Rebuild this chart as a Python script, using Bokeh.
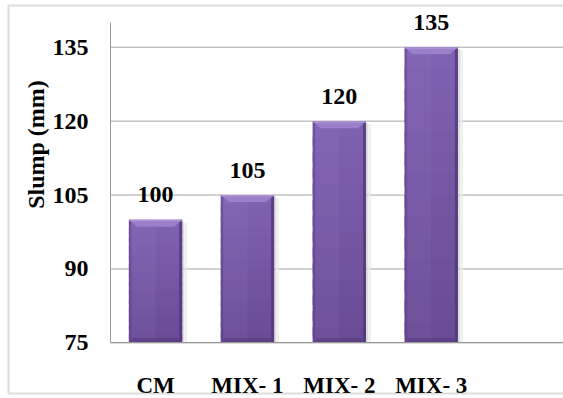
import numpy as np
from bokeh.plotting import figure
from bokeh.models import Range1d, FixedTicker, BoxAnnotation, LinearAxis
from bokeh.core.properties import value
from bokeh.embed import file_html
from bokeh.resources import INLINE

# Slump test results for each mix
mixes = ["CM", "MIX- 1", "MIX- 2", "MIX- 3"]
slump = [100, 105, 120, 135]
y_ticks = [75, 90, 105, 120, 135]

SERIF = "'Liberation Serif', 'Times New Roman', serif"
BAR_W = 0.58
Y0, Y1 = 75, 140          # extent of the value axis
AX_X = -0.49              # where the value axis sits on the category scale
W, H = 563, 398
X_START, X_END = -1.687, 4.439
Y_END = 144.48
PX_X = (X_END - X_START) / W     # one pixel in category units
PX_Y = 1 / 4.928                 # one pixel in value units
Y_START = Y_END - H * PX_Y

xs = np.arange(len(mixes), dtype=float)
vals = np.array(slump, dtype=float)

# the plot frame fills the whole canvas; the axes are pinned inside it
p = figure(width=W, height=H, output_backend="svg", toolbar_location=None,
           title=None, x_range=Range1d(X_START, X_END),
           y_range=Range1d(Y_START, Y_END),
           min_border_left=0, min_border_top=0, min_border_right=0,
           min_border_bottom=0)
p.background_fill_color = "white"
p.border_fill_color = "white"
p.outline_line_color = None
p.xgrid.visible = False
p.ygrid.visible = False

# horizontal grid lines, from the value axis to the right edge
p.segment(x0=[AX_X] * len(y_ticks), x1=[X_END] * len(y_ticks),
          y0=y_ticks, y1=y_ticks, line_color="#a6a6a6", line_width=1)

# value axis
p.yaxis.fixed_location = AX_X
p.yaxis.bounds = (Y0, Y1)
p.yaxis.ticker = FixedTicker(ticks=y_ticks)
p.yaxis.major_label_text_font = SERIF
p.yaxis.major_label_text_font_style = "bold"
p.yaxis.major_label_text_font_size = "24px"
p.yaxis.major_label_text_color = "black"
p.yaxis.major_label_standoff = 16
p.yaxis.major_tick_line_color = None
p.yaxis.minor_tick_line_color = None
p.yaxis.axis_line_color = "#9a9a9a"

# axis title, centred a little above the middle of the value axis
title_axis = LinearAxis(fixed_location=AX_X, bounds=(90.5, Y1),
                        ticker=FixedTicker(ticks=[]),
                        axis_line_color=None, major_tick_line_color=None,
                        minor_tick_line_color=None,
                        axis_label="Slump (mm)",
                        axis_label_text_font=SERIF,
                        axis_label_text_font_style="bold",
                        axis_label_text_font_size="24px",
                        axis_label_text_color="black",
                        axis_label_standoff=62)
p.add_layout(title_axis, "left")

# category axis along the 75 line
p.xaxis.fixed_location = Y0
p.xaxis.bounds = (AX_X, X_END)
p.xaxis.ticker = FixedTicker(ticks=list(xs))
p.xaxis.major_label_overrides = {i: m for i, m in enumerate(mixes)}
p.xaxis.major_label_text_font = SERIF
p.xaxis.major_label_text_font_style = "bold"
p.xaxis.major_label_text_font_size = "23px"
p.xaxis.major_label_text_color = "black"
p.xaxis.major_label_standoff = 24
p.xaxis.major_tick_line_color = None
p.xaxis.minor_tick_line_color = None
p.xaxis.axis_line_color = "#9a9a9a"

xl = xs - BAR_W / 2
xr = xs + BAR_W / 2

# soft shadow on the right side of each bar
p.quad(left=xr, right=xr + 2 * PX_X, top=vals - 2 * PX_Y, bottom=Y0,
       fill_color="#cfcfcf", fill_alpha=0.7, line_color=None)
p.quad(left=xr + 2 * PX_X, right=xr + 5 * PX_X, top=vals - 3 * PX_Y, bottom=Y0,
       fill_color="#e9e9e9", fill_alpha=0.7, line_color=None)

# bar body: horizontal bands fading from a lighter top to a darker base
TOP_RGB = (0x80, 0x62, 0xb2)
BOT_RGB = (0x68, 0x4a, 0x95)
M = 14
bl, br, bt, bb, bc = [], [], [], [], []
for a, b, v in zip(xl, xr, vals):
    h = (v - Y0) / M
    for k in range(M):
        f = (k + 0.5) / M
        rgb = tuple(round(t + (s - t) * f) for t, s in zip(TOP_RGB, BOT_RGB))
        bl.append(a)
        br.append(b)
        bt.append(v - h * k)
        bb.append(max(v - h * (k + 1.6), Y0))
        bc.append("#%02x%02x%02x" % rgb)
p.quad(left=bl, right=br, top=bt, bottom=bb, fill_color=bc, line_color=None)

# lighter left half sheen
p.quad(left=xl + 3 * PX_X, right=xs, top=vals, bottom=Y0,
       fill_color="#9a80c8", fill_alpha=0.12, line_color=None)

# edges of the bar
p.quad(left=xl, right=xl + 2 * PX_X, top=vals, bottom=Y0,
       fill_color="#5e4388", fill_alpha=0.55, line_color=None)
p.quad(left=xr - 3 * PX_X, right=xr, top=vals, bottom=Y0,
       fill_color="#503676", fill_alpha=0.75, line_color=None)

# bevel facets at top and bottom
ins_x = 8 * PX_X
ins_y = 7 * PX_Y
top_x = [[a, b, b - ins_x, a + ins_x] for a, b in zip(xl, xr)]
top_y = [[v, v, v - ins_y, v - ins_y] for v in vals]
p.patches(top_x, top_y, fill_color="#9a7fca", line_color=None)
p.quad(left=xl, right=xr, top=vals, bottom=vals - 1.5 * PX_Y,
       fill_color="#b39ad8", fill_alpha=0.8, line_color=None)

bot_x = [[a, b, b - ins_x * 0.6, a + ins_x * 0.6] for a, b in zip(xl, xr)]
bot_y = [[Y0, Y0, Y0 + 5 * PX_Y, Y0 + 5 * PX_Y] for _ in vals]
p.patches(bot_x, bot_y, fill_color="#553a7c", fill_alpha=0.6, line_color=None)

# value labels above bars
p.text(x=xs, y=vals, text=[str(int(v)) for v in slump], y_offset=-25,
       text_align="center", text_baseline="alphabetic",
       text_font=value(SERIF), text_font_style="bold",
       text_font_size="24px", text_color="black")

# outer chart border (open on the right)
p.add_layout(BoxAnnotation(left=8, right=580, top=5, bottom=393,
                           left_units="screen", right_units="screen",
                           top_units="screen", bottom_units="screen",
                           fill_color=None, line_color="#8c8c8c",
                           line_width=2, level="overlay"))

open("out.html", "w").write(file_html(p, INLINE))
